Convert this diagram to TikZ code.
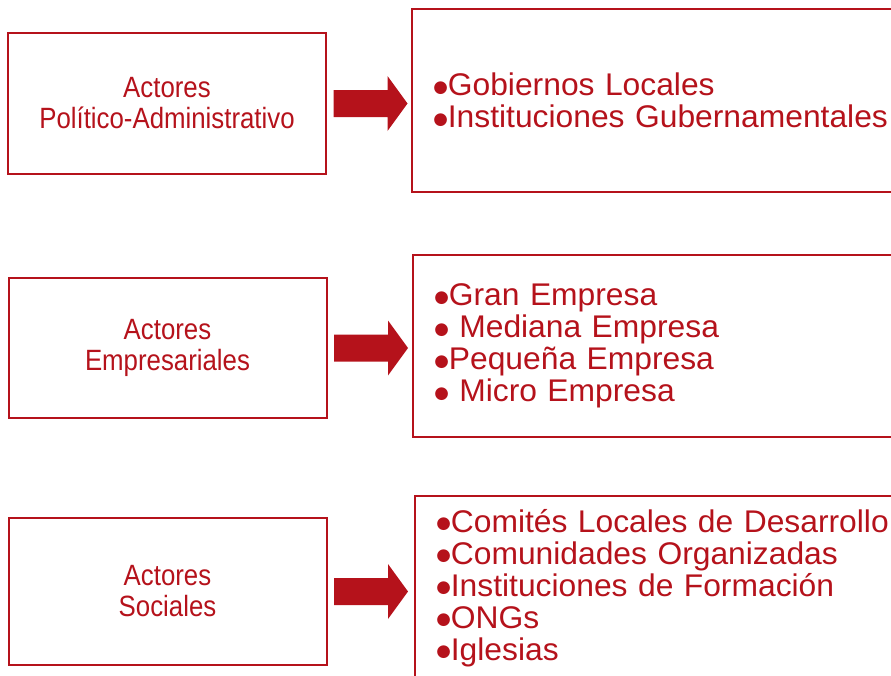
\documentclass[tikz,border=0pt]{standalone}
\usepackage{fontspec}
\setmainfont{Liberation Sans}
\newfontfamily\narrowfont[FakeStretch=0.88]{Liberation Sans}
\newfontfamily\listfont[FakeStretch=1.015]{Liberation Sans}
\newfontfamily\balafont{DejaVu Sans}
\usetikzlibrary{calc}
\definecolor{rojo}{RGB}{181,18,27}
\newcommand\bala{\raisebox{2.5pt}{\balafont\fontsize{12.5}{12.5}\selectfont ●}}
\tikzset{
	actor/.style={draw=rojo, line width=1.5pt, text=rojo, align=center, minimum width=318*0.75pt, font=\narrowfont\fontsize{22}{23.25}\selectfont},
	lista/.style={draw=rojo, line width=1.5pt, text=rojo, anchor=west, align=left, inner xsep=16pt, text width=390pt, font=\listfont\fontsize{23.5}{24}\selectfont},
}

\begin{document}
\begin{tikzpicture}[x=0.75pt, y=-0.75pt]
			\useasboundingbox (0,0) rectangle (891,675);
			\clip (0,0) rectangle (891,675);
			
			% actores
			\node[actor, minimum height=141*0.75pt] (act1) at (167,103.5) {Actores\\Político-Administrativo};
			\node[actor, minimum height=140*0.75pt] (act2) at (167.5,348) {Actores\\Empresariales};
			\node[actor, minimum height=147*0.75pt] (act3) at (167.5,591.5) {Actores\\Sociales};
			
			% listas
			\node[lista, minimum height=183*0.75pt] (lst1) at (411,100.5) {\bala Gobiernos Locales\\\bala Instituciones Gubernamentales};
			\node[lista, minimum height=182*0.75pt] (lst2) at (412,346) {\bala Gran Empresa\\\bala{} Mediana Empresa\\\bala Pequeña Empresa\\\bala{} Micro Empresa};
			\node[lista, minimum height=184*0.75pt] (lst3) at (414,588) {\bala Comités Locales de Desarrollo\\\bala Comunidades Organizadas\\\bala Instituciones de Formación\\\bala ONGs\\\bala Iglesias};
			
			% flechas
			\foreach \i in {1,2,3}
				\fill[rojo] ($(act\i.east)+(6.5,-13.5)$) -- ++(54,0) -- ++(0,-14) -- ++(20,27.5) -- ++(-20,27.5) -- ++(0,-14) -- ++(-54,0) -- cycle;
		\end{tikzpicture}
\end{document}
